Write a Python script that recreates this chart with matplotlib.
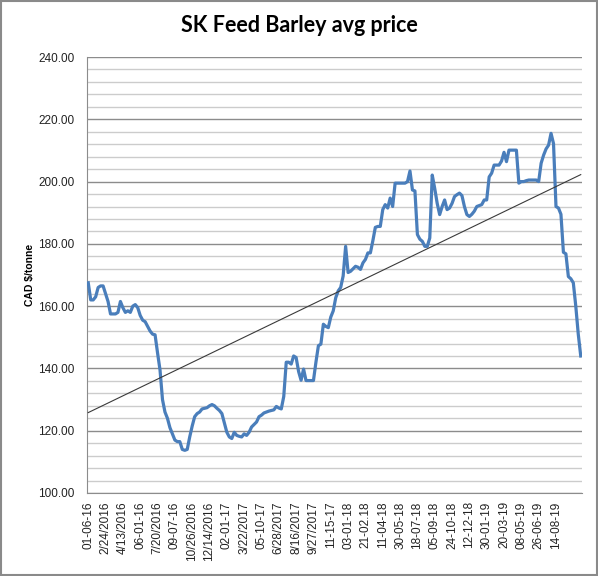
import numpy as np
import matplotlib
matplotlib.use("Agg")
import matplotlib.pyplot as plt
from matplotlib.ticker import MultipleLocator, FuncFormatter
from matplotlib.patches import Rectangle

# weekly price, CAD $/tonne
price = [
    167.5, 162.0, 162.0, 163.0, 166.0, 166.5, 166.5, 164.0, 161.5, 157.5,
    157.5, 157.5, 158.0, 161.5, 159.5, 158.0, 158.5, 158.0, 160.0, 160.5,
    159.5, 157.0, 155.5, 155.0, 153.5, 152.0, 151.0, 150.8, 145.0, 139.5,
    130.0, 126.0, 124.0, 121.0, 119.0, 117.0, 116.5, 116.5, 114.0, 113.7,
    114.0, 118.0, 121.5, 124.5, 125.5, 126.0, 127.0, 127.2, 127.4, 128.0,
    128.4, 128.0, 127.2, 126.5, 125.5, 122.5, 119.5, 118.0, 117.5, 119.5,
    118.5, 118.2, 118.0, 119.0, 118.5, 119.5, 121.2, 122.0, 122.8, 124.5,
    125.0, 125.7, 126.0, 126.3, 126.5, 126.7, 127.8, 127.3, 127.0, 131.0,
    142.0, 142.0, 141.4, 144.0, 143.5, 139.0, 136.2, 139.8, 136.1, 136.1,
    136.1, 136.1, 142.0, 147.3, 147.8, 154.2, 153.5, 153.1, 156.5, 158.5,
    162.7, 164.9, 166.0, 169.7, 179.2, 170.8, 171.2, 172.0, 172.8, 172.5,
    171.8, 173.9, 175.0, 177.1, 177.1, 181.0, 185.3, 185.6, 185.6, 191.0,
    192.6, 191.5, 194.7, 192.0, 199.5, 199.5, 199.5, 199.5, 199.5, 200.0,
    203.4, 197.3, 197.0, 183.0, 181.5, 180.8, 179.2, 179.2, 181.9, 202.1,
    197.8, 193.0, 189.4, 192.0, 194.1, 191.0, 191.5, 193.0, 195.2, 195.8,
    196.3, 195.5, 192.0, 189.4, 188.8, 189.5, 190.5, 192.0, 192.3, 192.6,
    194.1, 194.1, 201.5, 202.7, 205.3, 205.3, 205.3, 206.6, 209.4, 206.4,
    210.1, 210.1, 210.1, 210.1, 199.5, 200.0, 200.0, 200.3, 200.5, 200.5,
    200.5, 200.5, 200.0, 205.9, 208.5, 210.5, 211.7, 215.5, 212.2, 192.0,
    191.5, 189.5, 177.3, 176.8, 169.5, 168.8, 167.5, 160.0, 151.0, 144.0,
]

# category labels shown on the axis (every 7th week)
tick_labels = [
    "01-06-16", "2/24/2016", "4/13/2016", "06-01-16", "7/20/2016", "09-07-16",
    "10/26/2016", "12/14/2016", "02-01-17", "3/22/2017", "05-10-17", "6/28/2017",
    "8/16/2017", "9/27/2017", "11-15-17", "03-01-18", "21-02.18", "11-04-18",
    "30-05-18", "18-07-18", "05-09-18", "24-10-18", "12-12-18", "30-01-19",
    "20-03-19", "08-05-19", "26-06-19", "14-08-19",
]
tick_step = 7

plt.rcParams['font.family'] = ['Liberation Sans', 'DejaVu Sans']

x = np.arange(len(price))
y = np.array(price)

fig = plt.figure(figsize=(5.98, 5.76), dpi=100)
ax = fig.add_axes([0.1455, 0.1441, 0.8277, 0.7569])

# gridlines: minor every 4, major every 20
ax.yaxis.set_major_locator(MultipleLocator(20))
ax.yaxis.set_minor_locator(MultipleLocator(4))
ax.grid(True, which='major', axis='y', color='#8c8c8c', linewidth=1.0)
ax.grid(True, which='minor', axis='y', color='#cccccc', linewidth=1.0)
ax.set_axisbelow(True)

ax.plot(x, y, color='#4a7ebb', linewidth=2.3, solid_joinstyle='round', zorder=3)

# linear trendline
k, b = np.polyfit(x, y, 1)
ax.plot([x[0], x[-1]], [k * x[0] + b, k * x[-1] + b], color='#3a3a3a',
        linewidth=0.8, zorder=4)

ax.set_xlim(-0.5, len(price) - 0.5)
ax.set_ylim(100, 240)
ax.set_xticks(np.arange(len(tick_labels)) * tick_step)
ax.set_xticklabels(tick_labels, rotation=90, fontsize=8.5, color='#222222')
ax.yaxis.set_major_formatter(FuncFormatter(lambda v, p: f"{v:.2f}"))
ax.tick_params(axis='y', which='both', length=0, pad=9, labelsize=8.5,
               labelcolor='#222222')
ax.tick_params(axis='x', length=0, pad=6)

for s in ['top', 'right']:
    ax.spines[s].set_visible(False)
ax.spines['left'].set_color('#8c8c8c')
ax.spines['bottom'].set_color('#8c8c8c')

ax.set_ylabel("CAD $/tonne", fontsize=7.5, fontweight='bold', labelpad=2)
fig.text(0.5, 0.955, "SK Feed Barley avg price", ha='center', va='center',
         fontsize=15.5, fontweight='bold', family=['Lato', 'DejaVu Sans'])

fig.patches.append(Rectangle((0.001, 0.001), 0.997, 0.997, transform=fig.transFigure,
                             fill=False, edgecolor='#8a8a8a', linewidth=1.5))

fig.savefig("out.png", dpi=100)
